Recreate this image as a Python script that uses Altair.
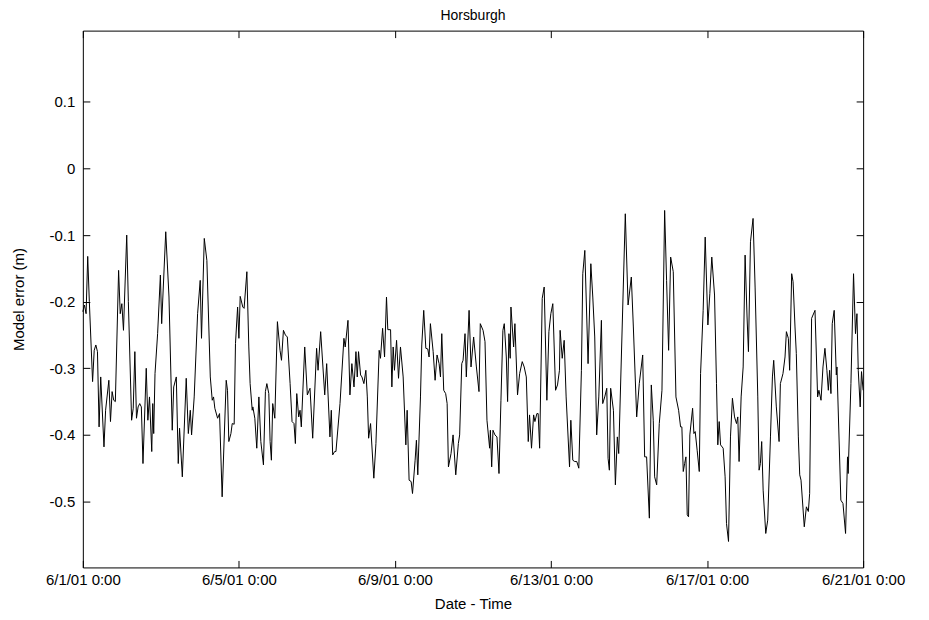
import altair as alt
import pandas as pd

title_text = "Horsburgh"
x_title = "Date - Time"
y_title = "Model error (m)"
tick_days = [1, 5, 9, 13, 17, 21]
y_ticks = [-0.5, -0.4, -0.3, -0.2, -0.1, 0, 0.1]
y_domain = [-0.599, 0.207]

# hours since 6/1/01 0:00 and model error (m)
hours_1 = [0, 1, 2, 3, 4, 6, 7, 8, 9, 10, 11, 13, 14, 16, 17, 18, 19, 20, 22, 23, 24, 25, 27, 28,
           30, 31, 32, 33, 34, 35, 36, 37, 39, 40, 41, 42.4, 43.0, 43.6, 44.4, 46.0, 47.7, 48.5,
           51.0, 53.0, 55.0, 55.9, 57.5, 58.7, 59.5, 61.2, 63.6, 64.9, 66.1, 66.9, 68.5, 70.6,
           72.2, 73.0, 74.7, 76.3, 78.4, 79.6, 80.4, 81.2, 82.9, 84.1, 85.7, 88.2, 89.0, 89.8,
           91.1, 91.9, 93.1, 93.9, 95.2]
err_1 = [-0.215, -0.205, -0.218, -0.132, -0.200, -0.320, -0.273, -0.265, -0.275, -0.388, -0.313,
         -0.418, -0.363, -0.318, -0.380, -0.335, -0.348, -0.350, -0.153, -0.218, -0.203, -0.243,
         -0.100, -0.200, -0.378, -0.360, -0.275, -0.375, -0.358, -0.353, -0.358, -0.443, -0.300,
         -0.378, -0.343, -0.425, -0.353, -0.398, -0.308, -0.248, -0.160, -0.233, -0.095, -0.193,
         -0.393, -0.328, -0.313, -0.443, -0.390, -0.463, -0.315, -0.398, -0.363, -0.400, -0.343,
         -0.218, -0.168, -0.255, -0.105, -0.138, -0.313, -0.348, -0.343, -0.360, -0.375, -0.368,
         -0.493, -0.318, -0.333, -0.410, -0.398, -0.383, -0.384, -0.263, -0.208]

hours_2 = [96.0, 96.8, 98.4, 99.2, 100.9, 102.1, 102.9, 104.2, 104.6, 105.8, 107.0, 108.3, 109.5,
           111.1, 112.3, 113.2, 114.4, 115.2, 116.0, 116.8, 118.1, 119.7, 121.3, 122.2, 123.4,
           124.6, 125.8, 127.5, 128.7, 129.9, 130.75, 131.6, 132.8, 133.6, 134.4, 136.5, 138.1,
           139.75, 141.4, 143.8, 144.7, 146.3, 148.8, 150.0, 152.0, 152.85, 153.7, 154.9, 155.7,
           158.2, 160.6, 161.4, 163.1, 164.3, 165.5, 166.8, 168.0, 168.8, 169.6, 170.85, 171.7,
           172.9, 174.1, 175.0, 175.8, 177.0, 179.0, 180.3, 182.3, 183.1, 184.4, 185.6, 186.8,
           187.6, 189.3, 190.1, 190.9, 191.7]
err_2 = [-0.255, -0.192, -0.208, -0.210, -0.155, -0.268, -0.323, -0.363, -0.358, -0.375, -0.420,
         -0.343, -0.410, -0.445, -0.335, -0.323, -0.338, -0.410, -0.438, -0.353, -0.375, -0.230,
         -0.273, -0.288, -0.243, -0.250, -0.253, -0.323, -0.380, -0.383, -0.413, -0.338, -0.373,
         -0.363, -0.388, -0.268, -0.340, -0.330, -0.405, -0.270, -0.303, -0.245, -0.340, -0.293,
         -0.403, -0.363, -0.430, -0.425, -0.425, -0.353, -0.255, -0.268, -0.228, -0.340, -0.293,
         -0.328, -0.275, -0.313, -0.275, -0.310, -0.313, -0.323, -0.303, -0.343, -0.405, -0.383,
         -0.465, -0.413, -0.273, -0.285, -0.240, -0.283, -0.193, -0.242, -0.242, -0.328, -0.268,
         -0.303]

hours_3 = [193.0, 194.2, 195.4, 197.05, 198.7, 199.5, 200.7, 201.95, 202.8, 204.4, 205.2, 206.05,
           207.7, 208.5, 209.7, 211.0, 212.2, 213.0, 213.8, 215.5, 216.7, 217.9, 219.15, 220.0,
           220.8, 222.0, 223.2, 224.1, 224.9, 226.5, 227.75, 229.4, 231.0, 231.8, 233.1, 233.9,
           235.1, 235.9, 237.6, 238.8, 240.4, 242.1, 243.7, 244.5, 246.2, 247.4, 248.6, 250.25,
           250.7, 251.5, 252.3, 253.5, 254.75, 256.0, 257.2, 258.4, 259.25, 260.5, 261.3, 262.1,
           262.9, 263.35, 265.0, 265.8, 267.4, 268.7, 270.3, 271.5, 272.8, 274.0, 274.8, 276.0,
           277.3, 278.1, 279.3, 280.1, 281.0, 282.6, 283.8, 285.45, 286.7]
err_3 = [-0.258, -0.315, -0.268, -0.313, -0.415, -0.363, -0.468, -0.470, -0.488, -0.438, -0.408,
         -0.460, -0.343, -0.265, -0.213, -0.270, -0.271, -0.283, -0.233, -0.275, -0.318, -0.280,
         -0.293, -0.313, -0.248, -0.333, -0.338, -0.353, -0.448, -0.428, -0.400, -0.460, -0.413,
         -0.400, -0.293, -0.288, -0.248, -0.313, -0.213, -0.298, -0.253, -0.298, -0.335, -0.233,
         -0.243, -0.260, -0.378, -0.420, -0.393, -0.448, -0.393, -0.400, -0.403, -0.458, -0.348,
         -0.243, -0.233, -0.283, -0.350, -0.248, -0.285, -0.208, -0.268, -0.233, -0.340, -0.308,
         -0.290, -0.298, -0.313, -0.410, -0.370, -0.420, -0.370, -0.380, -0.368, -0.368, -0.420,
         -0.195, -0.178, -0.348, -0.245]

hours_4 = [287.9, 289.1, 290.8, 292.0, 293.2, 293.6, 294.9, 296.1, 297.3, 299.4, 300.2, 301.4,
           302.6, 303.85, 305.1, 306.7, 307.55, 308.8, 310.8, 312.5, 313.7, 314.9, 316.1, 317.4,
           319.0, 319.8, 321.05, 322.3, 323.1, 323.9, 324.7, 326.4, 327.6, 328.8, 329.65, 333.7,
           335.4, 337.4, 338.65, 340.7, 342.3, 344.4, 345.6, 346.8, 348.5, 349.7, 350.9, 351.75,
           353.0, 354.6, 356.25, 357.9, 359.1, 360.35, 361.6, 363.2, 364.85, 366.5, 367.7, 368.5,
           369.35, 370.2, 371.0, 371.8, 372.6, 373.4, 375.1, 375.9, 376.7, 377.9, 379.2, 380.0,
           381.6, 382.85]
err_4 = [-0.218, -0.203, -0.333, -0.325, -0.303, -0.243, -0.285, -0.258, -0.343, -0.448, -0.378,
         -0.438, -0.440, -0.440, -0.450, -0.303, -0.158, -0.123, -0.293, -0.143, -0.193, -0.253,
         -0.400, -0.343, -0.228, -0.353, -0.343, -0.330, -0.435, -0.453, -0.330, -0.363, -0.475,
         -0.403, -0.428, -0.068, -0.205, -0.163, -0.238, -0.373, -0.323, -0.280, -0.433, -0.433,
         -0.525, -0.325, -0.378, -0.463, -0.475, -0.383, -0.333, -0.063, -0.168, -0.273, -0.133,
         -0.155, -0.343, -0.363, -0.388, -0.388, -0.455, -0.443, -0.433, -0.520, -0.523, -0.400,
         -0.360, -0.398, -0.395, -0.423, -0.455, -0.308, -0.213, -0.103]

hours_5 = [384.5, 385.7, 386.9, 388.6, 389.8, 390.6, 391.45, 392.3, 393.9, 395.1, 395.95, 397.2,
           398.4, 399.6, 400.9, 402.1, 402.9, 403.7, 404.95, 406.2, 407.4, 408.6, 409.45, 410.7,
           412.3, 413.55, 415.2, 416.0, 416.8, 417.6, 418.5, 420.1, 421.3, 423.0, 424.2, 425.0,
           426.6, 428.3, 429.1, 430.7, 431.95, 432.8, 434.0, 434.8, 436.05, 436.9, 438.1, 438.9,
           440.15, 441.0, 441.8, 443.8, 445.1, 446.3, 447.1, 448.3, 450.4, 452.0, 452.8, 454.1,
           455.3, 456.5, 457.7, 458.6, 459.4, 460.2, 461.0, 462.2, 463.5, 463.9, 466.3, 467.6,
           469.2, 470.4, 470.8, 472.5, 474.1, 475.3, 476.2, 477.0, 478.2, 479.0, 480.0]
err_5 = [-0.235, -0.188, -0.133, -0.190, -0.323, -0.415, -0.380, -0.415, -0.420, -0.463, -0.533,
         -0.560, -0.403, -0.345, -0.373, -0.383, -0.373, -0.440, -0.343, -0.298, -0.130, -0.223,
         -0.275, -0.110, -0.075, -0.178, -0.343, -0.453, -0.443, -0.410, -0.483, -0.548, -0.528,
         -0.403, -0.313, -0.288, -0.358, -0.410, -0.323, -0.308, -0.283, -0.245, -0.255, -0.303,
         -0.158, -0.170, -0.238, -0.278, -0.403, -0.460, -0.468, -0.538, -0.508, -0.515, -0.488,
         -0.225, -0.213, -0.343, -0.333, -0.348, -0.298, -0.270, -0.303, -0.333, -0.303, -0.338,
         -0.233, -0.213, -0.310, -0.298, -0.498, -0.503, -0.548, -0.433, -0.458, -0.323, -0.158,
         -0.248, -0.218, -0.303, -0.358, -0.305, -0.333]

hours = hours_1 + hours_2 + hours_3 + hours_4 + hours_5
err = err_1 + err_2 + err_3 + err_4 + err_5

t0 = pd.Timestamp("2001-06-01", tz="UTC").value // 10**6
hour_ms = 3600 * 1000
df = pd.DataFrame({"t": [t0 + h * hour_ms for h in hours], "err": err})

x_values = [t0 + (d - 1) * 24 * hour_ms for d in tick_days]
x_scale = alt.Scale(type="utc", domain=[x_values[0], x_values[-1]], nice=False)
y_scale = alt.Scale(domain=y_domain, nice=False, zero=False)

FONT = "Liberation Sans"
FS = 15
PW, PH = 782, 538

base = alt.Chart(df)

main = base.mark_line(color="black", strokeWidth=1).encode(
    x=alt.X("t:T", scale=x_scale, title=x_title,
            axis=alt.Axis(values=x_values, orient="bottom", ticks=False, domain=False, grid=False,
                          labelExpr="utcFormat(datum.value, '%-m/%-d/%y %-H:%M')",
                          labelFont=FONT, labelFontSize=FS, labelColor="black",
                          titleFont=FONT, titleFontSize=FS, titleFontWeight="normal",
                          titleColor="black",
                          labelPadding=5, titlePadding=9, labelOverlap=False, labelFlush=False)),
    y=alt.Y("err:Q", scale=y_scale, title=y_title,
            axis=alt.Axis(values=y_ticks, orient="left", ticks=False, domain=False, grid=False,
                          labelExpr="toString(round(datum.value*10)/10)",
                          labelFont=FONT, labelFontSize=FS, labelColor="black",
                          titleFont=FONT, titleFontSize=FS, titleFontWeight="normal",
                          titleColor="black",
                          labelPadding=8, titlePadding=23)),
)

tick_axis_x = dict(values=x_values, ticks=True, tickSize=7, labels=False, domain=False,
                   grid=False, title=None, tickColor="black")
tick_axis_y = dict(values=y_ticks, ticks=True, tickSize=7, labels=False, domain=False,
                   grid=False, title=None, tickColor="black")

ticks_a = base.mark_line(strokeOpacity=0).encode(
    x=alt.X("t:T", scale=x_scale, axis=alt.Axis(orient="top", offset=-PH, **tick_axis_x)),
    y=alt.Y("err:Q", scale=y_scale, axis=alt.Axis(orient="right", offset=-PW, **tick_axis_y)),
)
ticks_b = base.mark_line(strokeOpacity=0).encode(
    x=alt.X("t:T", scale=x_scale, axis=alt.Axis(orient="bottom", offset=-PH, **tick_axis_x)),
    y=alt.Y("err:Q", scale=y_scale, axis=alt.Axis(orient="left", offset=-PW, **tick_axis_y)),
)

chart = (
    alt.layer(main, ticks_a, ticks_b)
    .resolve_axis(x="independent", y="independent")
    .properties(
        width=PW, height=PH,
        background="white",
        title=alt.TitleParams(title_text, font=FONT, fontSize=14, fontWeight="normal",
                              color="black", anchor="middle", offset=7),
        autosize=alt.AutoSizeParams(type="none"),
        padding={"left": 75, "top": 22, "right": 58, "bottom": 44},
    )
    .configure_view(stroke="black", strokeWidth=1)
)

chart.save("out.html", embed_options={"renderer": "svg", "actions": False})
